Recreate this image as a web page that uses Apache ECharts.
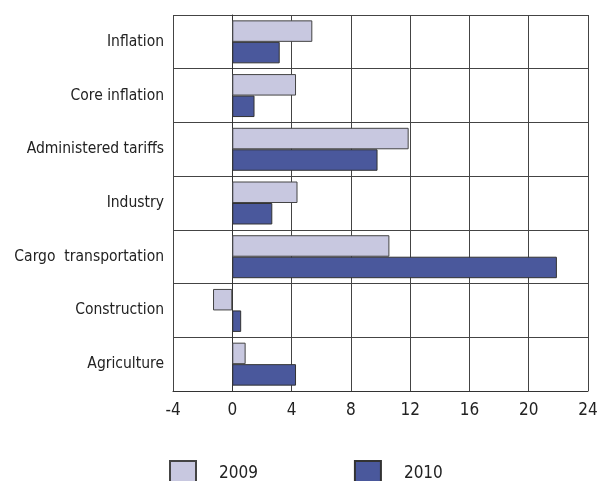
<!DOCTYPE html>
<html><head><meta charset="utf-8">
<script src="https://cdn.jsdelivr.net/npm/echarts@6/dist/echarts.min.js"></script>
<style>html,body{margin:0;padding:0;background:#fff}#c{width:599px;height:481px}</style>
</head><body><div id="c"></div>
<script>
var categories = ["Inflation","Core inflation","Administered tariffs","Industry","Cargo  transportation","Construction","Agriculture"];
var seriesNames = ["2009","2010"];
var values2009 = [5.4, 4.3, 11.9, 4.4, 10.6, -1.3, 0.9];
var values2010 = [3.2, 1.5, 9.8, 2.7, 21.9, 0.6, 4.3];
var xTicks = [-4, 0, 4, 8, 12, 16, 20, 24];

var FONT = '"DejaVu Sans Condensed",sans-serif';
var chart = echarts.init(document.getElementById('c'));
chart.setOption({
  animation: false,
  grid: {left: 173, right: 11, top: 15, bottom: 90, containLabel: false, outerBoundsMode: 'none'},
  legend: {
    left: 164, top: 455, icon: 'rect',
    itemWidth: 26, itemHeight: 26, itemGap: 96,
    textStyle: {fontFamily: FONT, fontSize: 17, color: '#222', padding: [0,0,0,18]},
    data: seriesNames
  },
  xAxis: {
    type: 'value', min: xTicks[0], max: xTicks[xTicks.length-1], interval: 4,
    axisLine: {show: true, lineStyle: {color: '#333', width: 1}},
    axisTick: {show: false},
    axisLabel: {fontFamily: FONT, fontSize: 17, color: '#222', margin: 11},
    splitLine: {show: true, lineStyle: {color: '#444', width: 1}}
  },
  yAxis: {
    type: 'category', data: categories, inverse: true,
    axisLine: {show: true, lineStyle: {color: '#333', width: 1}},
    axisTick: {show: false},
    axisLabel: {fontFamily: FONT, fontSize: 15.5, color: '#222', margin: 9},
    splitLine: {show: true, lineStyle: {color: '#444', width: 1}}
  },
  series: [
    {name: seriesNames[0], type: 'bar', data: values2009, barGap: '0%', barCategoryGap: '20%',
     itemStyle: {color: '#c8c8e0', borderColor: '#444', borderWidth: 1}},
    {name: seriesNames[1], type: 'bar', data: values2010, barGap: '0%', barCategoryGap: '20%',
     itemStyle: {color: '#4a589c', borderColor: '#333', borderWidth: 1}}
  ]
});
</script></body></html>
